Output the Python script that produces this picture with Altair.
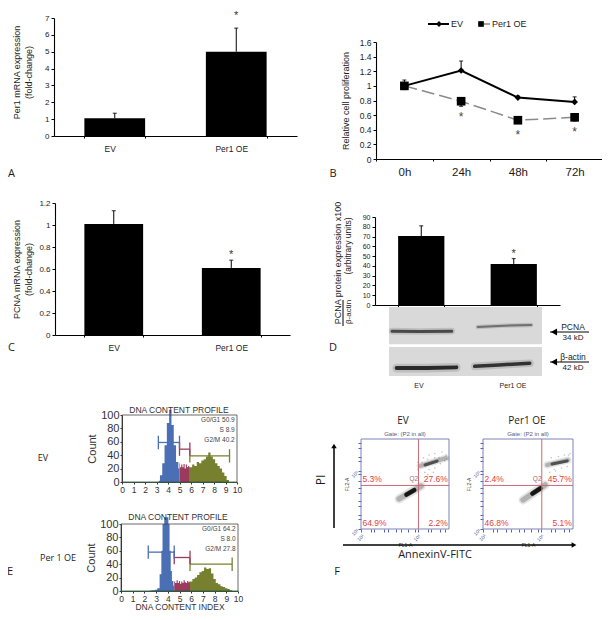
import altair as alt
import pandas as pd

# ---------- data ----------
groups = ["EV", "Per1 OE"]
a_mean = [1.05, 5.0]
a_err = [1.35, 6.4]
c_mean = [1.01, 0.61]
c_err = [1.13, 0.68]
d_mean = [70.5, 42.0]
d_err = [81.0, 47.5]

hours = ["0h", "24h", "48h", "72h"]
b_ev = [1.0, 1.21, 0.84, 0.78]
b_ev_err = [1.08, 1.34, 0.86, 0.85]
b_oe = [1.0, 0.79, 0.53, 0.57]
b_oe_err = [0.95, 0.72, 0.5, 0.52]
b_star = [0.6, 0.35, 0.39]

e1_blue_x = [3.2, 3.4, 3.6, 3.8, 4.0, 4.2, 4.4, 4.6, 4.8, 5.0]
e1_blue_y = [2, 10, 28, 55, 88, 108, 85, 55, 30, 20]
e1_red_x = [5.0, 5.1, 5.2, 5.3, 5.4, 5.5, 5.6, 5.7, 5.8, 5.9]
e1_red_y = [28, 22, 26, 22, 27, 20, 26, 22, 24, 22]
e1_olive_x = [5.9, 6.0, 6.2, 6.4, 6.6, 6.8, 7.0, 7.2, 7.4, 7.6, 7.8, 8.0, 8.2, 8.4, 8.6, 8.8, 9.0, 9.2, 9.4]
e1_olive_y = [22, 22, 26, 24, 30, 28, 32, 34, 38, 44, 38, 34, 28, 24, 20, 14, 9, 3, 0]
e1_stats = ["G0/G1 50.9", "S 8.9", "G2/M 40.2"]

e2_blue_x = [2.4, 2.8, 3.0, 3.2, 3.4, 3.5, 3.6, 3.8, 4.0, 4.1, 4.2, 4.3, 4.4, 4.55]
e2_blue_y = [0.5, 1, 2, 4, 25, 60, 100, 110, 110, 100, 60, 30, 15, 8]
e2_red_x = [4.55, 4.7, 4.8, 4.9, 5.0, 5.1, 5.2, 5.3, 5.4, 5.5, 5.6, 5.7, 5.8, 5.9]
e2_red_y = [14, 12, 16, 12, 15, 11, 14, 12, 16, 13, 12, 15, 13, 14]
e2_olive_x = [5.9, 6.0, 6.2, 6.4, 6.6, 6.8, 7.0, 7.2, 7.4, 7.6, 7.8, 8.0, 8.2, 8.4, 8.6, 8.8, 9.0, 9.2, 9.4, 9.6]
e2_olive_y = [14, 14, 18, 20, 24, 28, 30, 35, 33, 34, 26, 18, 12, 10, 7, 6, 4, 3, 1, 0]
e2_stats = ["G0/G1 64.2", "S 8.0", "G2/M 27.8"]

e1_gates = [(3.16, 5.0, 59), (5.0, 5.9, 49), (5.9, 9.35, 39)]
e2_gates = [(2.33, 4.55, 58), (4.55, 5.9, 50), (5.9, 9.5, 40)]

f1_pct = ["5.3%", "27.6%", "64.9%", "2.2%"]
f2_pct = ["2.4%", "45.7%", "46.8%", "5.1%"]
f1_low = ([3.68, 5.23], [3.07, 3.96], [4.2, 4.75], [3.37, 3.68])
f1_up = ([5.16, 6.99], [5.34, 5.89], [5.51, 6.36], [5.41, 5.68])
f2_low = ([3.76, 5.28], [3.0, 4.03], [4.4, 4.95], [3.44, 3.8])
f2_up = ([5.41, 6.86], [5.41, 5.75], [5.76, 6.8], [5.48, 5.68])
f1_sx = [5.0, 5.5, 5.8, 6.2, 5.4, 5.8, 6.2, 6.7, 7.0, 6.6, 6.9, 5.0, 5.7, 6.1, 6.5, 6.2, 5.7, 5.3, 7.05]
f1_sy = [5.1, 4.9, 5.1, 5.2, 5.9, 6.1, 6.2, 6.3, 6.1, 5.5, 5.7, 5.6, 4.75, 4.9, 5.9, 5.9, 5.8, 5.6, 5.8]
f2_sx = [5.6, 6.0, 6.4, 6.8, 6.9, 5.7, 6.2, 6.6, 7.0, 6.3, 5.9]
f2_sy = [4.9, 5.0, 5.2, 5.3, 6.1, 5.9, 6.0, 6.1, 6.2, 4.7, 5.1]
fl_decades = [1, 2, 3, 4, 5, 6, 7]
fl_minor = [0.0, 0.3, 0.48, 0.6, 0.7, 0.78, 0.85, 0.9, 0.95]

blot_rects = [(0, 100, 0, 54), (0, 100, 58, 100)]
blot_bands = [
    ([2, 20, 41], [35, 35.5, 35], 3.0, 0.75),
    ([58, 75, 93], [29, 27, 26], 2.0, 0.5),
    ([5, 25, 44], [88.5, 88.5, 87.5], 4.0, 0.95),
    ([56, 72, 92], [86, 84, 81.5], 3.5, 0.9),
]

# ---------- layout ----------
W, H = 594, 604
PX = lambda v: v - 8
PY = lambda v: v - 8
FONT = "Liberation Sans"
SOFT = "Open Sans"
INK = "#1c1c1c"


def txt(s, x, y, size=9, font=FONT, color=INK, align="center", angle=0, weight="normal"):
    return alt.Chart(pd.DataFrame({"t": [s]})).mark_text(
        font=font, fontSize=size, color=color, align=align, baseline="middle",
        angle=angle, fontWeight=weight,
    ).encode(x=alt.value(PX(x)), y=alt.value(PY(y)), text="t:N")


def hline(x1, x2, y, color="black", width=1.0, dash=None):
    kw = {"strokeDash": dash} if dash else {}
    return alt.Chart(pd.DataFrame({"a": [0]})).mark_rule(color=color, strokeWidth=width, **kw).encode(
        x=alt.value(PX(x1)), x2=alt.value(PX(x2)), y=alt.value(PY(y)))


def vline(x, y1, y2, color="black", width=1.0):
    return alt.Chart(pd.DataFrame({"a": [0]})).mark_rule(color=color, strokeWidth=width).encode(
        x=alt.value(PX(x)), y=alt.value(PY(y1)), y2=alt.value(PY(y2)))


def glyph(x, y, shape, size, color="black"):
    return alt.Chart(pd.DataFrame({"a": [0]})).mark_point(
        shape=shape, size=size, filled=True, color=color, opacity=1).encode(
        x=alt.value(PX(x)), y=alt.value(PY(y)))


def yaxis(x0, values, title=None, label_size=8, **kw):
    return alt.Axis(orient="left", offset=-PX(x0), values=values, title=title, grid=False, format="~g",
                    labelFont=FONT, labelFontSize=label_size, labelColor=INK, titleFont=FONT,
                    titleFontSize=9, titleFontWeight="normal", titleColor=INK, tickSize=3,
                    tickColor="black", domainColor="black", domainWidth=1.1, labelPadding=2,
                    labelOverlap=False, **kw)


def xband(y0, label_size=8.5, label_pad=6, **kw):
    return alt.Axis(orient="bottom", offset=-(H - PY(y0)), title=None, grid=False, tickBand="extent",
                    labelAngle=0, labelFont=FONT, labelFontSize=label_size, labelColor=INK, tickSize=2,
                    tickColor="black", domainColor="black", domainWidth=1.1, labelPadding=label_pad, **kw)


def bar_panel(mean, err, x0, x1, y0, y1, ymax, yvalues, title, star, label_size=8, x_size=8.5,
              cap=4, xlabel=True, **ykw):
    df = pd.DataFrame({"g": groups, "m": mean, "e": err})
    sx = alt.Scale(domain=groups, range=[PX(x0), PX(x1)], paddingInner=0.5, paddingOuter=0.25)
    sy = alt.Scale(domain=[0, ymax], range=[PY(y0), PY(y1)], nice=False, zero=True)
    xax = xband(y0, label_size=x_size, **({} if xlabel else {"labels": False}))
    if isinstance(xlabel, (int, float)) and not isinstance(xlabel, bool):
        xax = xband(y0, label_size=x_size, labelOffset=xlabel)
    base = alt.Chart(df)
    bars = base.mark_bar(color="black").encode(
        x=alt.X("g:N", scale=sx, axis=xax, sort=groups),
        y=alt.Y("m:Q", scale=sy, axis=yaxis(x0, yvalues, title, label_size, **ykw)))
    rule = base.mark_rule(color="black", strokeWidth=1).encode(
        x=alt.X("g:N", scale=sx, sort=groups), y=alt.Y("m:Q", scale=sy), y2="e:Q")
    tick = base.mark_tick(color="black", orient="horizontal", size=cap, thickness=1.2).encode(
        x=alt.X("g:N", scale=sx, sort=groups), y=alt.Y("e:Q", scale=sy))
    st = alt.Chart(pd.DataFrame({"g": ["Per1 OE"], "y": [star], "s": ["*"]})).mark_text(
        font=FONT, fontSize=11, color="#333", baseline="middle", dy=2).encode(
        x=alt.X("g:N", scale=sx, sort=groups), y=alt.Y("y:Q", scale=sy), text="s:N")
    return alt.layer(bars, rule, tick, st)


# ---------- A, C, D ----------
panel_a = bar_panel(a_mean, a_err, 54, 297, 136, 18, 7, list(range(8)),
                    ["Per1 mRNA expression", "(fold-change)"], 7.25, xlabel=-5, cap=4,
                    titleLineHeight=12, titlePadding=11, titleY=PY(72))
panel_c = bar_panel(c_mean, c_err, 55, 290, 335, 203, 1.2, [0, 0.2, 0.4, 0.6, 0.8, 1, 1.2],
                    ["PCNA mRNA expression", "(fold-change)"], 0.745, cap=4,
                    titleLineHeight=12, titlePadding=5)
panel_d = bar_panel(d_mean, d_err, 375, 560, 305, 217, 90, list(range(0, 100, 10)),
                    None, 54, label_size=7, xlabel=False, cap=4)

# ---------- B ----------
bdf = pd.DataFrame({"h": hours, "ev": b_ev, "eve": b_ev_err, "oe": b_oe, "oee": b_oe_err})
bsx = alt.Scale(domain=hours, range=[PX(376), PX(603)])
bsy = alt.Scale(domain=[0, 1.6], range=[PY(159), PY(42)], nice=False)
bx = alt.X("h:N", scale=bsx, sort=hours)
bbase = alt.Chart(bdf)
b_layers = [
    bbase.mark_line(color="#8a8a8a", strokeWidth=1.5, strokeDash=[13, 5]).encode(
        x=alt.X("h:N", scale=bsx, sort=hours, axis=xband(159, label_size=11.5, label_pad=5)),
        y=alt.Y("oe:Q", scale=bsy, axis=yaxis(376, [0, .2, .4, .6, .8, 1, 1.2, 1.4, 1.6],
                                             "Relative cell proliferation", 8.5, titlePadding=9))),
    bbase.mark_rule(color="black").encode(x=bx, y=alt.Y("ev:Q", scale=bsy), y2="eve:Q"),
    bbase.mark_tick(color="black", orient="horizontal", size=4, thickness=1.2).encode(x=bx, y=alt.Y("eve:Q", scale=bsy)),
    bbase.mark_rule(color="black").encode(x=bx, y=alt.Y("oe:Q", scale=bsy), y2="oee:Q"),
    bbase.mark_tick(color="black", orient="horizontal", size=4, thickness=1.2).encode(x=bx, y=alt.Y("oee:Q", scale=bsy)),
    bbase.mark_line(color="black", strokeWidth=2).encode(x=bx, y=alt.Y("ev:Q", scale=bsy)),
    bbase.mark_point(shape="diamond", size=45, filled=True, color="black", opacity=1).encode(x=bx, y=alt.Y("ev:Q", scale=bsy)),
    bbase.mark_point(shape="square", size=75, filled=True, color="black", opacity=1).encode(x=bx, y=alt.Y("oe:Q", scale=bsy)),
    alt.Chart(pd.DataFrame({"h": hours[1:], "y": b_star, "s": ["*"] * 3})).mark_text(
        font=FONT, fontSize=12, color="#444", baseline="middle", dy=2).encode(
        x=bx, y=alt.Y("y:Q", scale=bsy), text="s:N"),
]
panel_b = alt.layer(*b_layers)


# ---------- E ----------
def histo(bx_, by_, rx_, ry_, ox_, oy_, gates, stats, x0, x1, y0, y1, x_title=None):
    rows = []
    for name, xs, ys in (("G1", bx_, by_), ("S", rx_, ry_), ("G2", ox_, oy_)):
        rows += [{"phase": name, "dna": x, "count": y} for x, y in zip(xs, ys)]
    dfh = pd.DataFrame(rows)
    phases = ["G1", "S", "G2"]
    colors = ["#4a6fb5", "#9c3a5e", "#76802f"]
    gcolors = ["#6d8cc4", "#a84a70", "#8d9550"]
    sx = alt.Scale(domain=[0, 10], range=[PX(x0), PX(x1)], nice=False)
    sy = alt.Scale(domain=[0, 100], range=[PY(y0), PY(y1)], nice=False)
    xaxis = alt.Axis(orient="bottom", offset=-(H - PY(y0)), values=list(range(11)), title=x_title, grid=False,
                     format="d", labelFont=FONT, labelFontSize=8.5, labelColor="#333", tickSize=2, tickColor="#333",
                     domainColor="#1d6b3a", domainWidth=1.2, labelPadding=1, titleFont=FONT, titleFontSize=8.5,
                     titleFontWeight="normal", titleColor="#333", titlePadding=0, labelOverlap=False, labelFlush=False)
    yax = alt.Axis(orient="left", offset=-PX(x0), values=list(range(0, 101, 20)), title="Count", grid=False,
                   format="d", labelFont=FONT, labelFontSize=11, labelColor="#333", tickSize=2, tickColor="#333",
                   domainColor="#333", labelPadding=1, titleFont=FONT, titleFontSize=11, titleFontWeight="normal",
                   titleColor="#333", titlePadding=3, labelOverlap=False)
    area = alt.Chart(dfh).mark_area(interpolate="step", clip=True).encode(
        x=alt.X("dna:Q", scale=sx, axis=xaxis),
        y=alt.Y("count:Q", scale=sy, axis=yax, stack=None),
        color=alt.Color("phase:N", scale=alt.Scale(domain=phases, range=colors), legend=None))
    frame = alt.Chart(pd.DataFrame({"a": [0], "b": [10], "c": [0], "d": [100]})).mark_rect(
        fill=None, stroke="#444", strokeWidth=0.8).encode(
        x=alt.X("a:Q", scale=sx), x2="b:Q", y=alt.Y("c:Q", scale=sy), y2="d:Q")
    g = pd.DataFrame([{"a": a, "b": b, "y": y, "lo": y - 10, "hi": y + 10, "phase": p}
                      for (a, b, y), p in zip(gates, phases)])
    gc = alt.Color("phase:N", scale=alt.Scale(domain=phases, range=gcolors), legend=None)
    gh = alt.Chart(g).mark_rule(strokeWidth=1.3).encode(
        x=alt.X("a:Q", scale=sx), x2="b:Q", y=alt.Y("y:Q", scale=sy), color=gc)
    gl = alt.Chart(g).mark_rule(strokeWidth=1.3).encode(
        x=alt.X("a:Q", scale=sx), y=alt.Y("lo:Q", scale=sy), y2="hi:Q", color=gc)
    gr = alt.Chart(g).mark_rule(strokeWidth=1.3).encode(
        x=alt.X("b:Q", scale=sx), y=alt.Y("lo:Q", scale=sy), y2="hi:Q", color=gc)
    st = alt.Chart(pd.DataFrame({"x": [9.8] * 3, "y": [92, 78, 63], "s": stats})).mark_text(
        font=FONT, fontSize=6.5, color="#444", align="right", baseline="middle").encode(
        x=alt.X("x:Q", scale=sx), y=alt.Y("y:Q", scale=sy), text="s:N")
    return alt.layer(area, frame, gh, gl, gr, st)


panel_e1 = histo(e1_blue_x, e1_blue_y, e1_red_x, e1_red_y, e1_olive_x, e1_olive_y, e1_gates, e1_stats,
                 122, 237, 482, 415)
panel_e2 = histo(e2_blue_x, e2_blue_y, e2_red_x, e2_red_y, e2_olive_x, e2_olive_y, e2_gates, e2_stats,
                 121, 238, 591, 524, x_title="DNA CONTENT INDEX")


# ---------- F ----------
def ridge(xs, ys, width, opacity, sx, sy):
    return alt.Chart(pd.DataFrame({"a": xs, "b": ys})).mark_line(
        color="black", strokeWidth=width, opacity=opacity, strokeCap="round").encode(
        x=alt.X("a:Q", scale=sx), y=alt.Y("b:Q", scale=sy))


def flow(x0, x1, y0, y1, low, up, sxs, sys, pct, gx):
    sx = alt.Scale(domain=[1, 7.2], range=[PX(x0), PX(x1)], nice=False, zero=False)
    sy = alt.Scale(domain=[1, 7.2], range=[PY(y0), PY(y1)], nice=False, zero=False)
    tick_vals = [d + m for d in fl_decades[:-1] for m in fl_minor] + [7.0, 7.2]
    lab = "floor(datum.value)==datum.value ? '10' + ['','¹','²','³','⁴','⁵','⁶','⁷'][datum.value] : datum.value>7.1 ? '7.2' : ''"
    common = dict(grid=False, labelFont=FONT, labelFontSize=5, labelColor="#555a80", tickSize=3, tickColor="#4f62b5",
                  tickWidth=1, domain=False, labelPadding=1, labelOverlap=False, labelExpr=lab, labelAngle=-45,
                  labelFlush=False, values=tick_vals)
    xax = alt.Axis(orient="bottom", offset=-(H - PY(y0)), title="FL1-A", titleFont=FONT, titleFontSize=5,
                   titleFontWeight="normal", titleColor="#333", titlePadding=0, titleY=13, **common)
    yax = alt.Axis(orient="left", offset=-PX(x0), title="FL2-A", titleFont=FONT, titleFontSize=5,
                   titleFontWeight="normal", titleColor="#333", titlePadding=1, **common)
    frame = alt.Chart(pd.DataFrame({"a": [1], "b": [7.2], "c": [1], "d": [7.2]})).mark_rect(
        fill=None, stroke="#7c80b8", strokeWidth=1).encode(
        x=alt.X("a:Q", scale=sx, axis=xax), x2="b:Q", y=alt.Y("c:Q", scale=sy, axis=yax), y2="d:Q")
    layers = [frame]
    layers.append(alt.Chart(pd.DataFrame({"a": sxs, "b": sys})).mark_circle(
        color="#888", size=2.5, opacity=0.5).encode(x=alt.X("a:Q", scale=sx), y=alt.Y("b:Q", scale=sy)))
    for (lx, ly, cx, cy), (o, m, c, co) in ((low, (9, 5.5, 4.5, 0.88)), (up, (7, 4, 3, 0.55))):
        layers += [ridge(lx, ly, o, 0.1, sx, sy), ridge(lx, ly, m, 0.22, sx, sy),
                   ridge(cx, cy, c, co, sx, sy)]
    gate_v = alt.Chart(pd.DataFrame({"a": [gx], "c": [1], "d": [7.2]})).mark_rule(color="#c86b78", strokeWidth=1).encode(
        x=alt.X("a:Q", scale=sx), y=alt.Y("c:Q", scale=sy), y2="d:Q")
    gate_h = alt.Chart(pd.DataFrame({"a": [1], "b": [7.2], "c": [4.0]})).mark_rule(color="#c86b78", strokeWidth=1).encode(
        x=alt.X("a:Q", scale=sx), x2="b:Q", y=alt.Y("c:Q", scale=sy))
    layers += [gate_v, gate_h]
    left = pd.DataFrame({"x": [1.1, 1.1], "y": [4.45, 1.42], "s": [pct[0], pct[2]]})
    right = pd.DataFrame({"x": [7.12, 7.12], "y": [4.45, 1.42], "s": [pct[1], pct[3]]})
    for d, al in ((left, "left"), (right, "right")):
        layers.append(alt.Chart(d).mark_text(font=FONT, fontSize=8.5, color="#e5403a", align=al, baseline="middle").encode(
            x=alt.X("x:Q", scale=sx), y=alt.Y("y:Q", scale=sy), text="s:N"))
    layers.append(alt.Chart(pd.DataFrame({"x": [gx - 0.02], "y": [4.45], "s": ["Q2"]})).mark_text(
        font=FONT, fontSize=6.5, color="#b56070", align="right", baseline="middle").encode(
        x=alt.X("x:Q", scale=sx), y=alt.Y("y:Q", scale=sy), text="s:N"))
    return alt.layer(*layers)


panel_f1 = flow(361, 449, 529, 439, f1_low, f1_up, f1_sx, f1_sy, f1_pct, 5.05)
panel_f2 = flow(483, 573, 529, 439, f2_low, f2_up, f2_sx, f2_sy, f2_pct, 5.05)

# ---------- blot ----------
blx = alt.Scale(domain=[0, 100], range=[PX(389), PX(542)], nice=False)
bly = alt.Scale(domain=[0, 100], range=[PY(307), PY(376)], nice=False)
bl_layers = [alt.Chart(pd.DataFrame({"a": [r[0]], "b": [r[1]], "c": [r[2]], "d": [r[3]]})).mark_rect(color="#d9d9d9").encode(
    x=alt.X("a:Q", scale=blx, axis=None), x2="b:Q", y=alt.Y("c:Q", scale=bly, axis=None), y2="d:Q") for r in blot_rects]
for xs, ys, w, dark in blot_bands:
    d = pd.DataFrame({"a": xs, "b": ys})
    bl_layers.append(alt.Chart(d).mark_line(color="black", strokeWidth=w * 2.2, opacity=0.12, strokeCap="round").encode(
        x=alt.X("a:Q", scale=blx), y=alt.Y("b:Q", scale=bly)))
    bl_layers.append(alt.Chart(d).mark_line(color="#222", strokeWidth=w, opacity=dark, strokeCap="round").encode(
        x=alt.X("a:Q", scale=blx), y=alt.Y("b:Q", scale=bly)))
panel_blot = alt.layer(*bl_layers)

# ---------- annotations ----------
notes = alt.layer(
    txt("A", 8, 174, 11, SOFT, align="left"), txt("B", 333, 174, 11, SOFT), txt("C", 8, 348, 11, SOFT, align="left"),
    txt("D", 333, 348, 11, SOFT), txt("E", 10, 572, 11, SOFT), txt("F", 337, 572, 11, SOFT),
    # B legend
    hline(428, 449, 24, width=2), glyph(439, 24, "diamond", 35), txt("EV", 451, 24, 9, align="left"),
    hline(478, 490, 24, color="#8a8a8a", width=1.5), glyph(481, 24, "square", 32), txt("Per1 OE", 492, 24, 9, align="left"),
    # D title and fraction
    txt("PCNA protein expression x100", 338, 263, 9, angle=270),
    txt("(arbitrary units)", 348, 246, 8.5, angle=270),
    txt("β-actin", 349, 312, 8, angle=270),
    vline(343, 300, 326, width=1),
    # blot labels
    txt("PCNA", 573, 327, 8.5), hline(550, 589, 332, width=1), txt("34 kD", 573, 338, 8),
    glyph(554, 332, "triangle-left", 50),
    txt("β-actin", 573, 357, 8.5), hline(550, 589, 362, width=1), txt("42 kD", 573, 368, 8),
    glyph(554, 362, "triangle-left", 50),
    txt("EV", 419, 386, 7), txt("Per1 OE", 513, 386, 7),
    # E
    txt("DNA CONTENT PROFILE", 179, 410, 8.5, color="#333"),
    txt("DNA CONTENT PROFILE", 178, 517, 8.5, color="#333"),
    txt("EV", 43, 458, 9, SOFT), txt("Per 1 OE", 58, 558, 9, SOFT),
    # F
    txt("EV", 403, 421, 10, SOFT), txt("Per1 OE", 527, 421, 10, SOFT),
    txt("Gate: (P2 in all)", 405, 434, 6, color="#555a80"),
    txt("Gate: (P2 in all)", 528, 434, 6, color="#555a80"),
    vline(334, 528, 446, width=1.5), glyph(334, 446, "triangle-up", 30),
    hline(343, 573, 545, width=1.5), glyph(574, 545, "triangle-right", 30),
    txt("PI", 321, 480, 12, SOFT, angle=270),
    txt("AnnexinV-FITC", 435, 555, 11, SOFT),
)

chart = alt.layer(
    panel_a, panel_b, panel_c, panel_d, panel_blot, panel_e1, panel_e2, panel_f1, panel_f2, notes
).resolve_scale(x="independent", y="independent").properties(
    width=W, height=H, padding=0, autosize=alt.AutoSizeParams(type="none"), background="white"
).configure_view(stroke=None)

chart.save("out.html", embed_options={"renderer": "svg", "actions": False})
